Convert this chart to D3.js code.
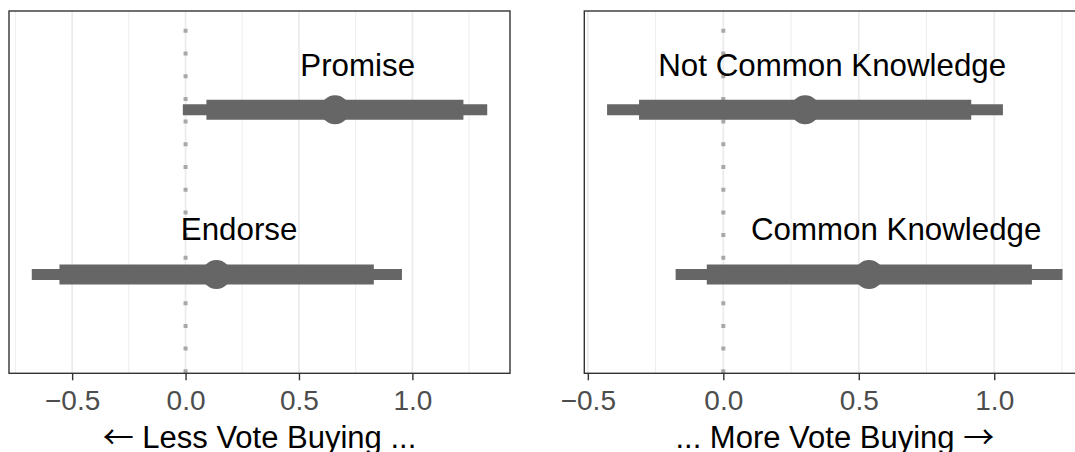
<!DOCTYPE html>
<html>
<head>
<meta charset="utf-8">
<script src="https://cdn.jsdelivr.net/npm/d3@7"></script>
<style>
  html, body { margin: 0; padding: 0; background: #ffffff; }
  svg { display: block; font-family: "Liberation Sans", Arial, Helvetica, sans-serif; }
</style>
</head>
<body>
<svg id="chart" width="1075" height="452"></svg>
<script>
// Left panel: type of vote-buying appeal
const leftCategories = ["Promise", "Endorse"];
const leftEstimate   = [0.659, 0.136];
const leftLo90       = [0.092, -0.556];
const leftHi90       = [1.225, 0.830];
const leftLo95       = [-0.012, -0.678];
const leftHi95       = [1.330, 0.954];

// Right panel: information condition
const rightCategories = ["Not Common Knowledge", "Common Knowledge"];
const rightEstimate   = [0.302, 0.538];
const rightLo90       = [-0.311, -0.061];
const rightHi90       = [0.915, 1.139];
const rightLo95       = [-0.429, -0.176];
const rightHi95       = [1.032, 1.252];

const tickValues = [-0.5, 0.0, 0.5, 1.0];
const minorTickValues = [-0.75, -0.25, 0.25, 0.75, 1.25];
// axis titles as [text before arrow, arrow, text after arrow]
const axisTitles = [
  ["", "\u2190", " Less Vote Buying ..."],
  ["... More Vote Buying ", "\u2192", ""]
];

const svg = d3.select("#chart");
const panelTop = 11, panelBottom = 373.3;

const panels = [
  { x0: 9, x1: 510, cats: leftCategories, est: leftEstimate,
    lo90: leftLo90, hi90: leftHi90, lo95: leftLo95, hi95: leftHi95, title: axisTitles[0] },
  { x0: 584.3, x1: 1085.3, cats: rightCategories, est: rightEstimate,
    lo90: rightLo90, hi90: rightHi90, lo95: rightLo95, hi95: rightHi95, title: axisTitles[1] }
];

const barColor = "#666666";

panels.forEach(p => {
  const rows = p.cats.map((c, i) => ({
    cat: c, est: p.est[i], lo90: p.lo90[i], hi90: p.hi90[i], lo95: p.lo95[i], hi95: p.hi95[i]
  }));

  // continuous x with 5% expansion on each side of the data range
  const lo = d3.min(rows, d => d.lo95), hi = d3.max(rows, d => d.hi95);
  const pad = (hi - lo) * 0.05;
  const x = d3.scaleLinear().domain([lo - pad, hi + pad]).range([p.x0, p.x1]);
  const y = d3.scalePoint().domain(p.cats).range([panelTop, panelBottom]).padding(0.6);

  const g = svg.append("g");

  // panel background
  g.append("rect").attr("x", p.x0).attr("y", panelTop)
    .attr("width", p.x1 - p.x0).attr("height", panelBottom - panelTop).attr("fill", "#ffffff");

  // grid
  g.selectAll(".minor").data(minorTickValues.filter(v => x(v) > p.x0 && x(v) < p.x1))
    .join("line").attr("class", "minor")
    .attr("x1", d => x(d)).attr("x2", d => x(d)).attr("y1", panelTop).attr("y2", panelBottom)
    .attr("stroke", "#EBEBEB").attr("stroke-width", 0.9);
  g.selectAll(".major").data(tickValues)
    .join("line").attr("class", "major")
    .attr("x1", d => x(d)).attr("x2", d => x(d)).attr("y1", panelTop).attr("y2", panelBottom)
    .attr("stroke", "#EBEBEB").attr("stroke-width", 1.7);

  // zero reference line
  g.append("line")
    .attr("x1", x(0)).attr("x2", x(0)).attr("y1", panelBottom).attr("y2", panelTop)
    .attr("stroke", "#A8A8A8").attr("stroke-width", 4)
    .attr("stroke-dasharray", "4,18.7");

  // 95% intervals
  g.selectAll(".ci95").data(rows).join("line").attr("class", "ci95")
    .attr("x1", d => x(d.lo95)).attr("x2", d => x(d.hi95))
    .attr("y1", d => y(d.cat)).attr("y2", d => y(d.cat))
    .attr("stroke", barColor).attr("stroke-width", 11);

  // 90% intervals
  g.selectAll(".ci90").data(rows).join("line").attr("class", "ci90")
    .attr("x1", d => x(d.lo90)).attr("x2", d => x(d.hi90))
    .attr("y1", d => y(d.cat)).attr("y2", d => y(d.cat))
    .attr("stroke", barColor).attr("stroke-width", 20);

  // point estimates
  g.selectAll(".pt").data(rows).join("circle").attr("class", "pt")
    .attr("cx", d => x(d.est)).attr("cy", d => y(d.cat)).attr("r", 14.5)
    .attr("fill", barColor);

  // category labels above each interval
  g.selectAll(".lab").data(rows).join("text").attr("class", "lab")
    .attr("x", d => x(d.est + 0.1)).attr("y", d => y(d.cat) - 34)
    .attr("text-anchor", "middle").attr("font-size", 31.3).attr("fill", "#000000")
    .text(d => d.cat);

  // panel border
  g.append("rect").attr("x", p.x0).attr("y", panelTop)
    .attr("width", p.x1 - p.x0).attr("height", panelBottom - panelTop)
    .attr("fill", "none").attr("stroke", "#333333").attr("stroke-width", 1.4);

  // x axis
  const axis = d3.axisBottom(x).tickValues(tickValues).tickFormat(d3.format(".1f"))
    .tickSizeInner(7).tickSizeOuter(0).tickPadding(10);
  const ax = svg.append("g").attr("transform", `translate(0,${panelBottom})`).call(axis);
  ax.select(".domain").remove();
  ax.selectAll(".tick line").attr("stroke", "#333333").attr("stroke-width", 1.4);
  ax.selectAll(".tick text").attr("fill", "#4D4D4D").attr("font-size", 28)
    .attr("font-family", "Liberation Sans, Arial, sans-serif");

  // axis title
  const t = svg.append("text")
    .attr("x", (p.x0 + p.x1) / 2).attr("y", 447.5)
    .attr("text-anchor", "middle").attr("font-size", 31).attr("fill", "#000000");
  t.append("tspan").text(p.title[0]);
  t.append("tspan").attr("font-family", "Noto Sans CJK SC").attr("font-size", 31).text(p.title[1]);
  t.append("tspan").text(p.title[2]);
});
</script>
</body>
</html>
